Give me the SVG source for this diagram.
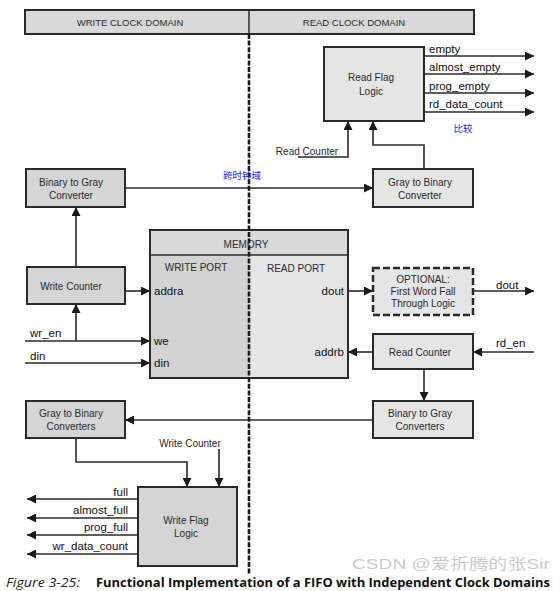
<svg xmlns="http://www.w3.org/2000/svg" width="560" height="591" viewBox="0 0 560 591">
<style>
.box{stroke:#2a2a2a;stroke-width:2}
.dk{fill:#d5d5d5}
.lt{fill:#e5e5e5}
.t{font-family:"Liberation Sans",Arial,sans-serif;font-size:10px;fill:#2a2a2a;text-anchor:middle;dominant-baseline:central}
.sig{font-family:"Liberation Sans",Arial,sans-serif;font-size:11.5px;fill:#111}
.port{font-family:"Liberation Sans",Arial,sans-serif;font-size:11.5px;fill:#111;dominant-baseline:central}
.cn{font-family:"Noto Sans CJK SC",sans-serif;font-size:9.5px;fill:#1a1aff;text-anchor:middle;dominant-baseline:central}
.ln{fill:none;stroke:#2a2a2a;stroke-width:1.6}
</style>
<defs>
<marker id="ah" viewBox="0 0 10 10" refX="10" refY="5" markerWidth="12" markerHeight="9" markerUnits="userSpaceOnUse" orient="auto"><path d="M0,0 L10,5 L0,10 z" fill="#1a1a1a"/></marker>
</defs>
<rect width="560" height="591" fill="#ffffff"/>

<g id="header">
<rect x="25" y="10" width="449" height="24" fill="#d9d9d9" stroke="#2a2a2a" stroke-width="2"/>
<line x1="249" y1="10" x2="249" y2="34" stroke="#2a2a2a" stroke-width="1.5"/>
<text class="t" x="130" y="22" style="font-size:9.5px">WRITE CLOCK DOMAIN</text>
<text class="t" x="354" y="22" style="font-size:9.5px">READ CLOCK DOMAIN</text>
</g>

<g id="read-flag-logic">
<rect class="box lt" x="324" y="47" width="100" height="74"/>
<text class="t" x="371" y="77">Read Flag</text>
<text class="t" x="371" y="91">Logic</text>
</g>

<g id="b2g-left">
<rect class="box dk" x="26" y="169" width="99" height="38"/>
<text class="t" x="71" y="182">Binary to Gray</text>
<text class="t" x="71" y="195">Converter</text>
</g>

<g id="g2b-right">
<rect class="box lt" x="373" y="169" width="100" height="38"/>
<text class="t" x="420" y="182">Gray to Binary</text>
<text class="t" x="420" y="195">Converter</text>
</g>

<g id="memory">
<rect x="150" y="230" width="198" height="148" fill="#e5e5e5" stroke="none"/>
<rect x="150" y="255" width="99" height="123" fill="#d3d3d3"/>
<rect x="150" y="230" width="198" height="25" fill="#dadada"/>
<line x1="150" y1="255" x2="348" y2="255" stroke="#2a2a2a" stroke-width="1.5"/>
<rect x="150" y="230" width="198" height="148" fill="none" stroke="#2a2a2a" stroke-width="2"/>
<text class="t" x="246" y="244">MEMORY</text>
<text class="t" x="196" y="267">WRITE PORT</text>
<text class="t" x="296" y="268">READ PORT</text>
<text class="port" x="154" y="291">addra</text>
<text class="port" x="154" y="341">we</text>
<text class="port" x="154" y="363">din</text>
<text class="port" x="344" y="291" text-anchor="end">dout</text>
<text class="port" x="344" y="352" text-anchor="end">addrb</text>
</g>

<g id="write-counter">
<rect class="box dk" x="27" y="267" width="98" height="37"/>
<text class="t" x="71" y="286">Write Counter</text>
</g>

<g id="fwft">
<rect x="373" y="268" width="100" height="47" fill="#e5e5e5" stroke="#2a2a2a" stroke-width="2.5" stroke-dasharray="7 3"/>
<text class="t" x="423" y="279">OPTIONAL:</text>
<text class="t" x="423" y="291">First Word Fall</text>
<text class="t" x="423" y="303">Through Logic</text>
</g>

<g id="read-counter">
<rect class="box lt" x="373" y="334" width="100" height="35"/>
<text class="t" x="420" y="352">Read Counter</text>
</g>

<g id="g2b-left">
<rect class="box dk" x="26" y="401" width="99" height="37"/>
<text class="t" x="71" y="413">Gray to Binary</text>
<text class="t" x="71" y="426">Converters</text>
</g>

<g id="b2g-right">
<rect class="box lt" x="373" y="401" width="100" height="37"/>
<text class="t" x="420" y="413">Binary to Gray</text>
<text class="t" x="420" y="426">Converters</text>
</g>

<g id="write-flag-logic">
<rect class="box dk" x="138" y="487" width="99" height="79"/>
<text class="t" x="186" y="520">Write Flag</text>
<text class="t" x="186" y="533">Logic</text>
</g>

<g id="connectors">
<path class="ln" d="M424,56 H534" marker-end="url(#ah)"/>
<path class="ln" d="M424,74 H534" marker-end="url(#ah)"/>
<path class="ln" d="M424,93 H534" marker-end="url(#ah)"/>
<path class="ln" d="M424,112 H534" marker-end="url(#ah)"/>
<path class="ln" d="M298,157 H348 V121" marker-end="url(#ah)"/>
<path class="ln" d="M424,169 V145 H373 V121" marker-end="url(#ah)"/>
<path class="ln" d="M125,188 H373" marker-end="url(#ah)"/>
<path class="ln" d="M76,267 V207" marker-end="url(#ah)"/>
<path class="ln" d="M125,291 H150" marker-end="url(#ah)"/>
<path class="ln" d="M348,291 H373" marker-end="url(#ah)"/>
<path class="ln" d="M473,291 H534" marker-end="url(#ah)"/>
<path class="ln" d="M25,341 H150" marker-end="url(#ah)"/>
<path class="ln" d="M76,341 V304" marker-end="url(#ah)"/>
<path class="ln" d="M25,363 H150" marker-end="url(#ah)"/>
<path class="ln" d="M373,352 H348" marker-end="url(#ah)"/>
<path class="ln" d="M534,352 H473" marker-end="url(#ah)"/>
<path class="ln" d="M424,369 V401" marker-end="url(#ah)"/>
<path class="ln" d="M373,420 H125" marker-end="url(#ah)"/>
<path class="ln" d="M76,438 V462 H187 V487" marker-end="url(#ah)"/>
<path class="ln" d="M219,449 V487" marker-end="url(#ah)"/>
<path class="ln" d="M138,499 H27" marker-end="url(#ah)"/>
<path class="ln" d="M138,518 H27" marker-end="url(#ah)"/>
<path class="ln" d="M138,535 H27" marker-end="url(#ah)"/>
<path class="ln" d="M138,554 H27" marker-end="url(#ah)"/>
</g>

<g id="divider">
<line x1="249" y1="34" x2="249" y2="575" stroke="#1a1a1a" stroke-width="2.6" stroke-dasharray="5 1.6"/>
</g>

<g id="labels">
<text class="sig" x="429" y="53">empty</text>
<text class="sig" x="429" y="71">almost_empty</text>
<text class="sig" x="429" y="90">prog_empty</text>
<text class="sig" x="429" y="108">rd_data_count</text>
<text class="cn" x="463" y="128">比较</text>
<text class="t" x="307" y="151">Read Counter</text>
<text class="cn" x="242" y="175">跨时钟域</text>
<text class="sig" x="496" y="289">dout</text>
<text class="sig" x="30" y="337">wr_en</text>
<text class="sig" x="30" y="360">din</text>
<text class="sig" x="496" y="347">rd_en</text>
<text class="t" x="190" y="443">Write Counter</text>
<text class="sig" x="128" y="496" text-anchor="end">full</text>
<text class="sig" x="128" y="514" text-anchor="end">almost_full</text>
<text class="sig" x="128" y="531" text-anchor="end">prog_full</text>
<text class="sig" x="128" y="550" text-anchor="end">wr_data_count</text>
</g>

<g id="caption">
<text x="352" y="569" font-family="Liberation Sans, 'Noto Sans CJK SC', sans-serif" font-size="14.5" fill="#bfbfbf" opacity="0.8" textLength="198" lengthAdjust="spacingAndGlyphs">CSDN @爱折腾的张Sir</text>
<text x="6" y="587" font-family="'Open Sans', 'Noto Sans', sans-serif" font-size="12.5" font-style="italic" fill="#1a1a2e" textLength="74" lengthAdjust="spacingAndGlyphs">Figure 3-25:</text>
<text x="96" y="587" font-family="'Open Sans', 'Noto Sans', sans-serif" font-size="12.5" font-weight="bold" fill="#111" textLength="454" lengthAdjust="spacingAndGlyphs">Functional Implementation of a FIFO with Independent Clock Domains</text>
</g>
</svg>
